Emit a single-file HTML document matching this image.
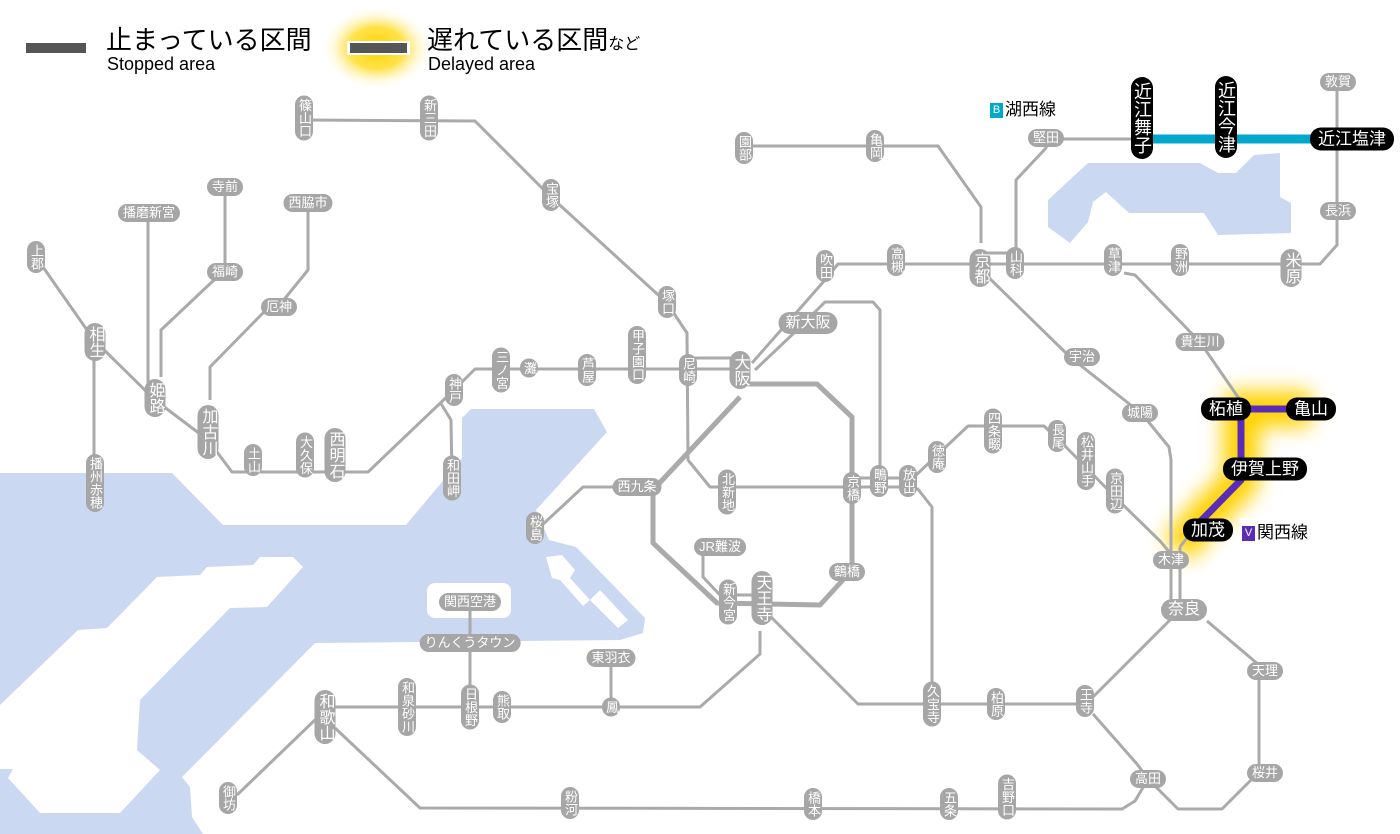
<!DOCTYPE html>
<html><head><meta charset="utf-8">
<style>
html,body{margin:0;padding:0;background:#fff;}
#w{position:relative;width:1400px;height:834px;overflow:hidden;font-family:"Liberation Sans","Noto Sans CJK JP",sans-serif;}
svg{position:absolute;left:0;top:0;}
.v,.h,.bv,.bh,.vb,.hb{position:absolute;transform:translate(-50%,-50%);color:#fff;white-space:nowrap;text-align:center;}
.v{writing-mode:vertical-rl;background:#a6a6a6;border-radius:9px;font-size:13px;width:18px;line-height:18px;padding:3px 0;}
.vb{writing-mode:vertical-rl;background:#a6a6a6;border-radius:11px;font-size:16px;width:21px;line-height:21px;padding:3px 0;}
.h{background:#a6a6a6;border-radius:9px;font-size:13px;height:18px;line-height:18px;padding:0 5px;}
.hb{background:#a6a6a6;border-radius:11px;font-size:16px;height:22px;line-height:22px;padding:0 7px;}
.bv{writing-mode:vertical-rl;background:#000;border-radius:11px;font-size:18px;width:22px;line-height:22px;padding:5px 0;}
.bh{background:#000;border-radius:11px;font-size:17px;height:23px;line-height:23px;padding:0 8px;}
.t{position:absolute;color:#000;white-space:nowrap;}
</style></head><body><div id="w">
<svg width="1400" height="834" viewBox="0 0 1400 834">
<defs>
<filter id="bl" x="-50%" y="-50%" width="200%" height="200%"><feGaussianBlur stdDeviation="10"/></filter>
<radialGradient id="rg"><stop offset="0" stop-color="#ffd400"/><stop offset="0.5" stop-color="#ffe24a"/><stop offset="1" stop-color="#fff" stop-opacity="0"/></radialGradient>
</defs>
<g fill="#cad8f2">
<polygon points="0,473 172,473 223,525 406,525 462,458 462,418 471,409 594,409 607,432 536,510 549,540 576,547 645,618 643,633 620,640 315,643 182,777 190,787 192,817 203,834 0,834"/>
<polygon points="1048,200 1088,163 1200,163 1218,173 1236,173 1254,155 1280,153 1280,197 1291,203 1291,233 1218,235 1204,213 1129,213 1106,192 1093,202 1088,222 1070,243 1048,227"/>
</g>
<g fill="#fff">
<polygon points="0,705 78,630 107,628 157,577 200,575 207,567 253,565 260,557 293,557 303,567 267,607 230,608 140,700 137,750 160,770 120,813 40,813 8,778 13,769 0,769"/>
<rect x="427" y="583" width="84" height="35" rx="8"/>
<polygon points="546,557 562,555 575,570 570,578 590,600 600,590 628,620 618,628 590,600 583,606 560,580 552,578"/>
</g>
<ellipse cx="377" cy="48" rx="56" ry="42" fill="url(#rg)"/>
<path d="M1226,409 L1311,409 M1241,409 L1241,480 L1195,527 L1178,550" stroke="#ffd200" stroke-width="36" fill="none" filter="url(#bl)" stroke-linejoin="round"/>
<g fill="none" stroke="#aaa" stroke-width="3" stroke-linejoin="round">
<polyline points="304,120 475,121 551,197 667,303 687,333 688,460 710,487 917,487"/>
<polyline points="860,478 900,478"/>
<polyline points="36,257 94,340 155,400 208,440 232,472 368,472 454,390 475,369 740,369"/>
<polyline points="688,358 740,358"/>
<polyline points="440,402 451,420 452,478"/>
<polyline points="752,363 825,280 838,264 1320,264 1337,245 1337,82"/>
<polyline points="981,253 1016,253"/>
<polyline points="755,370 795,332 825,302 873,302 880,310 880,481"/>
<polyline points="653,490 613,487 583,487 540,527"/>
<polyline points="917,488 932,507 932,704"/>
<polyline points="914,477 968,426 1044,426 1066,447 1115,497 1160,541 1171,554"/>
<polyline points="981,270 1070,357 1142,414 1169,447 1171,460 1171,619 1093,697"/>
<polyline points="1180,547 1180,604"/>
<polyline points="1124,273 1135,275 1200,342 1240,400"/>
<polyline points="981,243 981,207 938,146 744,146"/>
<polyline points="1016,253 1016,180 1046,148 1046,139 1141,139"/>
<polyline points="1207,621 1259,665 1259,772 1222,809 1178,809 1148,779"/>
<polyline points="1093,714 1137,764 1148,779 1135,801 1122,809 420,808 335,728"/>
<polyline points="1093,704 858,704 771,617"/>
<polyline points="760,631 760,654 700,707 330,707"/>
<polyline points="317,718 237,795"/>
<polyline points="470,602 470,706"/>
<polyline points="611,658 611,710"/>
<polyline points="703,547 703,577 720,595 757,595"/>
<polyline points="94,341 94,482"/>
<polyline points="148,213 148,400"/>
<polyline points="161,377 161,330 214,280 225,272 225,187"/>
<polyline points="210,400 210,367 263,313 278,307 308,270 308,203"/>
</g>
<polyline points="748,384 817,384 852,417 852,570 820,605 717,603 653,543 653,490 740,397" fill="none" stroke="#aaa" stroke-width="5" stroke-linejoin="round"/>
<line x1="1141" y1="139" x2="1352" y2="139" stroke="#00a8cc" stroke-width="9"/>
<path d="M1226,409 L1311,409 M1241,409 L1241,480 L1195,527" stroke="#5a2db8" stroke-width="7" fill="none" stroke-linejoin="round"/>
<path d="M1195,527 L1180,547" stroke="#aaa" stroke-width="3" fill="none"/>
<rect x="26" y="43" width="60" height="10" fill="#555"/>
<rect x="347" y="41" width="63" height="14" fill="#fff"/>
<rect x="350" y="43" width="57" height="10" fill="#555"/>
</svg>

<div class="t" style="left:106px;top:20px;font-size:26px;">止まっている区間</div>
<div class="t" style="left:107px;top:54px;font-size:18px;">Stopped area</div>
<div class="t" style="left:427px;top:20px;font-size:26px;">遅れている区間<span style="font-size:16px">など</span></div>
<div class="t" style="left:428px;top:54px;font-size:18px;">Delayed area</div>

<div class="t" style="left:988px;top:95px;font-size:17px;background:#fff;padding:0 2px;"><span style="display:inline-block;background:#00a8cc;color:#fff;font-size:11px;width:13px;height:15px;line-height:15px;text-align:center;vertical-align:2px;margin-right:2px;">B</span>湖西線</div>
<div class="t" style="left:1240px;top:518px;font-size:17px;background:#fff;padding:0 2px;"><span style="display:inline-block;background:#5a2db8;color:#fff;font-size:11px;width:13px;height:15px;line-height:15px;text-align:center;vertical-align:2px;margin-right:2px;">V</span>関西線</div>

<div class="v" style="left:304px;top:118px">篠山口</div>
<div class="v" style="left:429px;top:118px">新三田</div>
<div class="v" style="left:551px;top:195px">宝塚</div>
<div class="v" style="left:667px;top:302px">塚口</div>
<div class="v" style="left:688px;top:370px">尼崎</div>
<div class="v" style="left:637px;top:355px">甲子園口</div>
<div class="v" style="left:587px;top:370px">芦屋</div>
<div class="v" style="left:529px;top:368px">灘</div>
<div class="v" style="left:501px;top:370px">三ノ宮</div>
<div class="v" style="left:454px;top:390px">神戸</div>
<div class="v" style="left:452px;top:478px">和田岬</div>
<div class="vb" style="left:335px;top:455px">西明石</div>
<div class="v" style="left:305px;top:455px">大久保</div>
<div class="v" style="left:253px;top:460px">土山</div>
<div class="vb" style="left:208px;top:432px">加古川</div>
<div class="vb" style="left:155px;top:398px">姫路</div>
<div class="vb" style="left:95px;top:342px">相生</div>
<div class="v" style="left:36px;top:257px">上郡</div>
<div class="v" style="left:95px;top:483px">播州赤穂</div>
<div class="vb" style="left:740px;top:370px">大阪</div>
<div class="v" style="left:825px;top:266px">吹田</div>
<div class="v" style="left:896px;top:260px">高槻</div>
<div class="vb" style="left:980px;top:268px">京都</div>
<div class="v" style="left:1015px;top:263px">山科</div>
<div class="v" style="left:1113px;top:260px">草津</div>
<div class="v" style="left:1180px;top:260px">野洲</div>
<div class="vb" style="left:1291px;top:268px">米原</div>
<div class="v" style="left:744px;top:148px">園部</div>
<div class="v" style="left:875px;top:146px">亀岡</div>
<div class="v" style="left:852px;top:488px">京橋</div>
<div class="v" style="left:879px;top:481px">鴫野</div>
<div class="v" style="left:908px;top:481px">放出</div>
<div class="v" style="left:937px;top:457px">徳庵</div>
<div class="v" style="left:993px;top:431px">四条畷</div>
<div class="v" style="left:1057px;top:436px">長尾</div>
<div class="v" style="left:1086px;top:461px">松井山手</div>
<div class="v" style="left:1115px;top:491px">京田辺</div>
<div class="v" style="left:727px;top:492px">北新地</div>
<div class="v" style="left:535px;top:528px">桜島</div>
<div class="v" style="left:728px;top:602px">新今宮</div>
<div class="vb" style="left:762px;top:598px">天王寺</div>
<div class="v" style="left:932px;top:704px">久宝寺</div>
<div class="v" style="left:996px;top:704px">柏原</div>
<div class="v" style="left:1085px;top:701px">王寺</div>
<div class="v" style="left:1007px;top:797px">吉野口</div>
<div class="v" style="left:949px;top:804px">五条</div>
<div class="v" style="left:813px;top:804px">橋本</div>
<div class="v" style="left:570px;top:803px">粉河</div>
<div class="v" style="left:228px;top:798px">御坊</div>
<div class="vb" style="left:325px;top:717px">和歌山</div>
<div class="v" style="left:407px;top:707px">和泉砂川</div>
<div class="v" style="left:470px;top:707px">日根野</div>
<div class="v" style="left:502px;top:707px">熊取</div>
<div class="v" style="left:611px;top:707px">鳳</div>

<div class="h" style="left:149px;top:213px">播磨新宮</div>
<div class="h" style="left:225px;top:187px">寺前</div>
<div class="h" style="left:308px;top:203px">西脇市</div>
<div class="h" style="left:225px;top:272px">福崎</div>
<div class="h" style="left:279px;top:307px">厄神</div>
<div class="hb" style="left:808px;top:323px;font-size:15px">新大阪</div>
<div class="h" style="left:637px;top:487px">西九条</div>
<div class="h" style="left:720px;top:547px">JR難波</div>
<div class="h" style="left:847px;top:572px">鶴橋</div>
<div class="h" style="left:1046px;top:138px">堅田</div>
<div class="h" style="left:1338px;top:82px">敦賀</div>
<div class="h" style="left:1338px;top:211px">長浜</div>
<div class="h" style="left:1200px;top:342px">貴生川</div>
<div class="h" style="left:1082px;top:357px">宇治</div>
<div class="h" style="left:1140px;top:413px">城陽</div>
<div class="h" style="left:1171px;top:560px">木津</div>
<div class="hb" style="left:1184px;top:610px">奈良</div>
<div class="h" style="left:1265px;top:671px">天理</div>
<div class="h" style="left:1265px;top:773px">桜井</div>
<div class="h" style="left:1148px;top:779px">高田</div>
<div class="h" style="left:470px;top:602px">関西空港</div>
<div class="h" style="left:470px;top:643px">りんくうタウン</div>
<div class="h" style="left:611px;top:658px">東羽衣</div>

<div class="bv" style="left:1142px;top:118px">近江舞子</div>
<div class="bv" style="left:1226px;top:117px">近江今津</div>
<div class="bh" style="left:1352px;top:139px">近江塩津</div>
<div class="bh" style="left:1226px;top:409px">柘植</div>
<div class="bh" style="left:1311px;top:409px">亀山</div>
<div class="bh" style="left:1265px;top:469px">伊賀上野</div>
<div class="bh" style="left:1208px;top:530px">加茂</div>
</div></body></html>
